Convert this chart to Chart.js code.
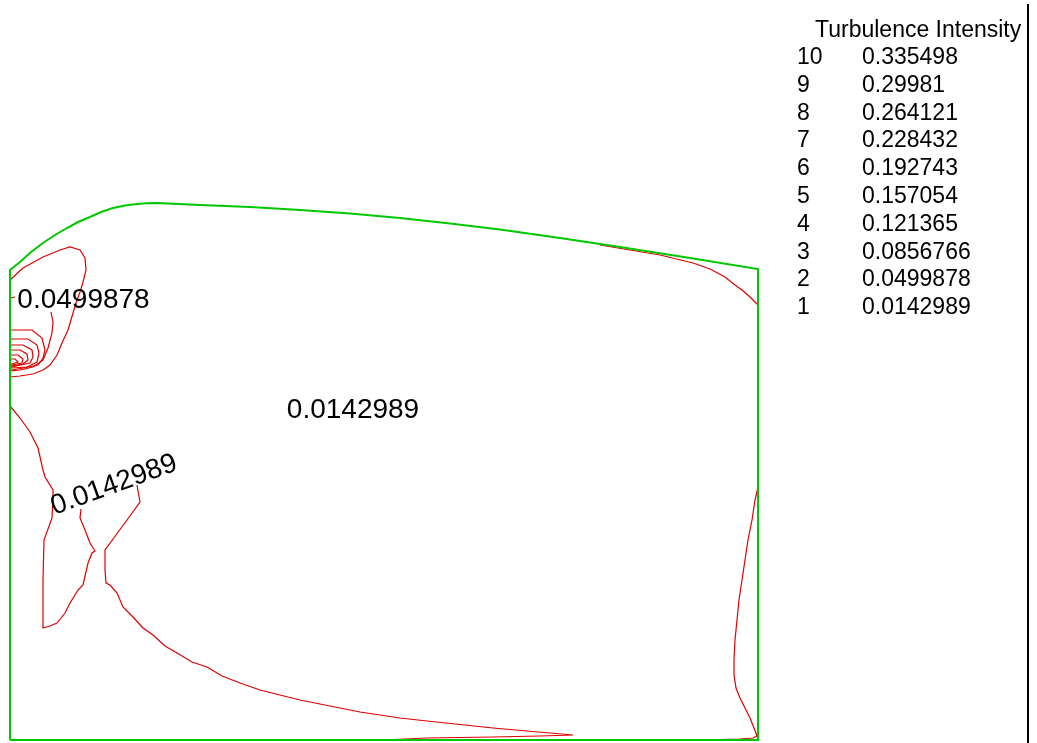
<!DOCTYPE html>
<html>
<head>
<meta charset="utf-8">
<title>Turbulence Intensity</title>
<script src="https://cdn.jsdelivr.net/npm/chart.js@4/dist/chart.umd.min.js"></script>
<style>
  html, body { margin: 0; padding: 0; background: #ffffff; }
  #wrap { width: 1037px; height: 743px; position: relative; }
</style>
</head>
<body>
<div id="wrap"><canvas id="c" width="1037" height="743"></canvas></div>
<script>
// Contour levels of turbulence intensity (legend table)
const levelNumbers = ["10", "9", "8", "7", "6", "5", "4", "3", "2", "1"];
const levelValues  = ["0.335498", "0.29981", "0.264121", "0.228432", "0.192743",
                      "0.157054", "0.121365", "0.0856766", "0.0499878", "0.0142989"];
const legendTitle = "Turbulence Intensity";

// Domain outline, coordinates in mm (x from left wall, y from floor)
const domainX = [0, 0, 5, 10, 21, 33, 45, 57, 68, 80, 91, 103, 115, 127, 137, 147,
                 190, 240, 290, 340, 390, 440, 490, 550, 610, 680, 748, 748, 0];
const domainY = [0, 470, 474, 478, 488, 497, 505, 512, 518, 523, 528, 532, 534.5, 536, 536.7, 537,
                 535, 533, 530, 526.5, 522, 516.5, 510.5, 502, 493, 482, 471, 0, 0];

// Level 1 (0.0142989): loop near the inlet
const lv1InletX = [0, 13, 33, 50, 60, 70, 75, 76, 73, 70, 66, 63, 58, 52, 47, 40, 33, 23, 10, 0];
const lv1InletY = [460, 472, 483, 490, 493, 490, 482, 470, 458, 448, 437, 427, 410, 397, 385, 375, 370, 366, 364, 363];

// Level 2 (0.0499878): broken where its label sits
const lv2aX = [0, 5];
const lv2aY = [442, 443];
const lv2bX = [41, 43, 42, 38, 33, 23, 10, 0];
const lv2bY = [428, 418, 407, 392, 380, 373, 370, 369];

// Levels 3..8: nested lines at the inlet
const lv3X = [0, 22, 32, 35, 33, 28, 13, 2, 0];
const lv3Y = [410, 410, 402, 390, 382, 375, 372, 370, 370];
const lv4X = [0, 18, 27, 29, 27, 17, 2, 0];
const lv4Y = [401, 401, 395, 387, 378, 373, 372, 372];
const lv5X = [0, 13, 22, 23, 20, 2, 0];
const lv5Y = [395, 395, 390, 383, 377, 373, 373];
const lv6X = [0, 10, 17, 18, 13, 2, 0];
const lv6Y = [390, 390, 386, 380, 376, 374, 374];
const lv7X = [0, 8, 13, 12, 2, 0];
const lv7Y = [385, 385, 381, 377, 375, 375];
const lv8X = [0, 5, 8, 2, 0];
const lv8Y = [381, 381, 378, 376, 376];

// Level 1 (0.0142989): lower-left region, split around its label
const lv1LowAX = [0, 10, 20, 25, 28, 33, 35, 43, 43, 42, 34, 33, 33, 40, 47, 55, 60, 68, 73, 78, 82, 85, 80, 75, 70, 71];
const lv1LowAY = [334, 322, 308, 298, 292, 270, 263, 250, 240, 222, 200, 160, 112, 114, 117, 127, 137, 150, 155, 177, 187, 189, 197, 210, 222, 231];
const lv1LowBX = [127, 130, 117, 106, 95, 95, 96, 100, 107, 113, 123, 133, 143, 155, 167, 182, 197, 212, 230, 250, 270, 290, 310, 330, 350, 390, 417, 483, 563, 530, 483, 417, 373];
const lv1LowBY = [255, 238, 220, 205, 190, 170, 157, 155, 147, 133, 123, 112, 105, 94, 87, 78, 73, 64, 57, 50, 45, 40, 36, 32, 28, 22, 19, 12, 5, 4, 3, 2, 0];

// Level 1 (0.0142989): under the sloping roof, right end
const lv1RoofX = [590, 620, 650, 683, 700, 715, 725, 732, 740, 748];
const lv1RoofY = [495, 490, 485, 477, 471, 463, 455, 450, 443, 435];

// Level 1 (0.0142989): along the right wall
const lv1WallX = [748, 745, 742, 738, 735, 732, 729, 727, 725, 724, 724, 726, 730, 735, 740, 744, 747, 743, 730, 687];
const lv1WallY = [253, 240, 220, 200, 180, 160, 140, 120, 100, 80, 65, 52, 42, 32, 22, 12, 4, 2, 1, 0];

// Contour labels: level index into levelValues, position (mm), rotation (deg)
const labelLevels = [8, 9, 9];
const labelX = [73.5, 343, 104];
const labelY = [440, 330, 255];
const labelAngle = [0, 0, -20];

function pts(xs, ys) { return xs.map((x, i) => ({ x: x, y: ys[i] })); }

const RED = '#dd0000';
const GREEN = '#00c800';

function contour(xs, ys) {
  return {
    data: pts(xs, ys), showLine: true, pointRadius: 0, borderColor: RED,
    borderWidth: 1.2, tension: 0, fill: false
  };
}

const datasets = [
  { data: pts(domainX, domainY), showLine: true, pointRadius: 0, borderColor: GREEN,
    borderWidth: 2, tension: 0, fill: false },
  contour(lv1InletX, lv1InletY),
  contour(lv2aX, lv2aY),
  contour(lv2bX, lv2bY),
  contour(lv3X, lv3Y),
  contour(lv4X, lv4Y),
  contour(lv5X, lv5Y),
  contour(lv6X, lv6Y),
  contour(lv7X, lv7Y),
  contour(lv8X, lv8Y),
  contour(lv1LowAX, lv1LowAY),
  contour(lv1LowBX, lv1LowBY),
  contour(lv1RoofX, lv1RoofY),
  contour(lv1WallX, lv1WallY)
];

const FONT = '"Liberation Sans", Arial, Helvetica, sans-serif';

// Draws contour labels, the level table and the divider line
const annotate = {
  id: 'annotate',
  afterDatasetsDraw(chart) {
    const ctx = chart.ctx;
    const sx = chart.scales.x, sy = chart.scales.y;
    ctx.save();
    ctx.fillStyle = '#000';
    ctx.font = '28px ' + FONT;
    ctx.textAlign = 'center';
    ctx.textBaseline = 'middle';
    labelLevels.forEach((lv, i) => {
      const px = sx.getPixelForValue(labelX[i]);
      const py = sy.getPixelForValue(labelY[i]);
      ctx.save();
      ctx.translate(px, py);
      ctx.rotate(labelAngle[i] * Math.PI / 180);
      ctx.fillText(levelValues[lv], 0, 0);
      ctx.restore();
    });

    // level table
    ctx.textAlign = 'left';
    ctx.textBaseline = 'alphabetic';
    ctx.font = '23px ' + FONT;
    ctx.fillText(legendTitle, 815, 37);
    levelNumbers.forEach((n, i) => {
      const y = 64 + i * 27.8;
      ctx.fillText(n, 797, y);
      ctx.fillText(levelValues[i], 862, y);
    });

    // divider
    ctx.strokeStyle = '#000';
    ctx.lineWidth = 2;
    ctx.beginPath();
    ctx.moveTo(1028, 4);
    ctx.lineTo(1028, 743);
    ctx.stroke();
    ctx.restore();
  }
};

new Chart(document.getElementById('c'), {
  type: 'scatter',
  data: { datasets: datasets },
  options: {
    responsive: false,
    animation: false,
    events: [],
    layout: { padding: 0 },
    plugins: { legend: { display: false }, tooltip: { enabled: false }, title: { display: false } },
    scales: {
      x: { type: 'linear', min: -10, max: 1027, display: false },
      y: { type: 'linear', min: -3, max: 740, display: false }
    }
  },
  plugins: [annotate]
});
</script>
</body>
</html>
